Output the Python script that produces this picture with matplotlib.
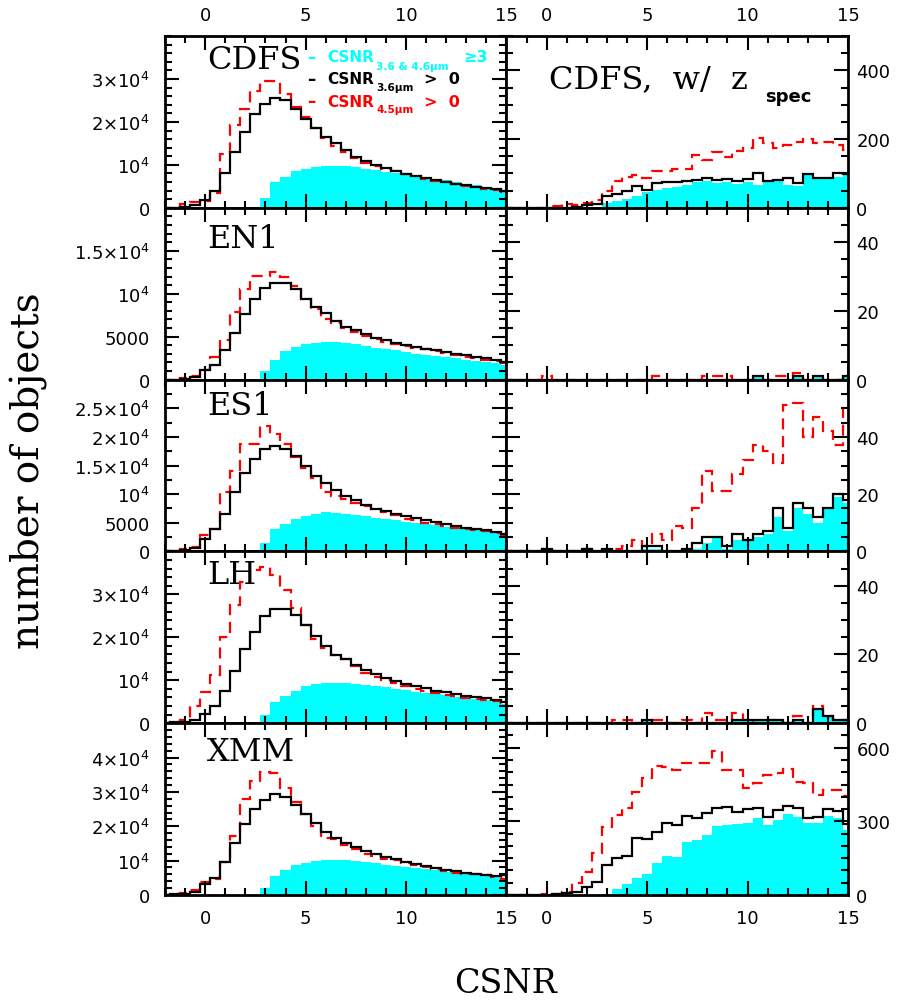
import numpy as np
import matplotlib
matplotlib.use("Agg")
import matplotlib.pyplot as plt
from matplotlib.ticker import MultipleLocator, FixedLocator, FuncFormatter

# bin centres (CSNR, 0.5 wide bins)
centres = np.arange(-2.0, 15.01, 0.5)      # black / red histograms
centres_cyan = np.arange(3.0, 15.01, 0.5)  # CSNR >= 3 histogram

fields = ["CDFS", "EN1", "ES1", "LH", "XMM"]

# ---- left column: all objects ----
cdfs_black = [0, 0, 300, 600, 1770, 3850, 8090, 13100, 17700, 21950, 24270, 25660, 25040, 23100, 20800,
              18500, 16570, 15030, 13490, 11950, 10790, 10020, 9250, 8630, 7940, 7480, 6940, 6400, 6010,
              5550, 5240, 4930, 4620, 4320, 4000]
cdfs_red = [0, 0, 800, 1300, 1540, 3470, 12480, 19260, 23000, 27190, 29490, 29490, 26570, 23480, 21180,
            18500, 16180, 14480, 12940, 11710, 10550, 9850, 9100, 8500, 7850, 7300, 6800, 6300, 5900,
            5450, 5100, 4800, 4500, 4200, 3800]
cdfs_cyan = [2310, 6000, 7160, 8470, 9090, 9400, 9700, 9780, 9630, 9400, 9090, 8780, 8320, 8010, 7700,
             7400, 7090, 6780, 6400, 6010, 5630, 5240, 4930, 4620, 4240]

en1_black = [0, 0, 120, 270, 1090, 1750, 3390, 5460, 7680, 9360, 10640, 11230, 11230, 10530, 9440,
             8460, 7720, 6820, 6160, 5730, 5260, 4870, 4560, 4290, 4050, 3780, 3590, 3390, 3200,
             3000, 2810, 2610, 2460, 2260, 2030]
en1_red = [0, 0, 200, 390, 1170, 2610, 4560, 7910, 10530, 12090, 12090, 12480, 11900, 10920, 9440,
           8190, 7020, 6630, 5970, 5580, 5070, 4680, 4400, 4090, 3900, 3700, 3510, 3280, 3080,
           2890, 2690, 2500, 2340, 2140, 1950]
en1_cyan = [975, 2340, 3310, 3780, 4090, 4290, 4400, 4370, 4210, 4090, 3900, 3700, 3550, 3390, 3200,
            3040, 2890, 2730, 2610, 2460, 2300, 2180, 2030, 1910, 1750]

es1_black = [0, 0, 290, 640, 2210, 3830, 6570, 10340, 13650, 16150, 17890, 18360, 17890, 16730, 14990,
             13250, 11970, 10810, 9640, 8890, 8020, 7440, 7030, 6570, 6160, 5810, 5400, 5050, 4710,
             4420, 4130, 3890, 3660, 3370, 3080]
es1_red = [0, 0, 460, 750, 2900, 3950, 10340, 14120, 18770, 18770, 21850, 20510, 18770, 16440, 14580,
           12840, 10340, 9760, 9180, 8420, 7900, 7320, 6860, 6270, 5690, 5400, 5000, 4710, 4360,
           4130, 3890, 3660, 3490, 3200, 2900]
es1_cyan = [1450, 3830, 4820, 5690, 6160, 6570, 6800, 6740, 6570, 6330, 6100, 5870, 5640, 5400, 5170,
            4940, 4710, 4530, 4300, 4130, 3890, 3660, 3490, 3250, 2790]

lh_black = [0, 160, 160, 630, 2200, 3920, 7450, 12150, 17250, 21320, 24930, 26500, 26660, 25090, 22890,
            20230, 18030, 15840, 14900, 13480, 12390, 11370, 10580, 9800, 9170, 8620, 8080, 7600, 7210,
            6740, 6430, 6120, 5800, 5490, 5020]
lh_red = [0, 390, 780, 3920, 7210, 11130, 19990, 27440, 32770, 35670, 36300, 34500, 30970, 26810, 22890,
          19600, 17400, 15840, 14900, 13330, 11760, 10740, 9960, 9250, 8620, 8000, 7450, 7060, 6590,
          6270, 5960, 5640, 5330, 5100, 4700]
lh_cyan = [1800, 4940, 6270, 7600, 8620, 9020, 9330, 9410, 9410, 9170, 8940, 8620, 8310, 8000, 7680,
           7370, 7060, 6740, 6510, 6190, 5880, 5640, 5330, 5020, 4550]

xmm_black = [0, 190, 390, 870, 3100, 4860, 9710, 15240, 20590, 25150, 27580, 29320, 28640, 26120, 23690,
             20880, 18350, 16700, 15240, 14080, 12820, 11850, 11070, 10390, 9710, 9130, 8450, 7960, 7380,
             6890, 6510, 6120, 5830, 5630, 5730]
xmm_red = [0, 390, 490, 1460, 3790, 4760, 9610, 17190, 27870, 33210, 35830, 35440, 31270, 27090, 23500,
           20100, 16700, 16220, 14470, 13300, 11850, 11360, 10580, 10200, 9220, 8740, 8160, 7480, 6990,
           6510, 6210, 6020, 5730, 5340, 4760]
xmm_cyan = [2140, 5530, 7280, 8740, 9420, 9900, 10200, 10200, 10100, 9810, 9610, 9220, 8840, 8450, 8160,
            7870, 7480, 7190, 6800, 6410, 6120, 5830, 5440, 5150, 4760]

# ---- right column: objects with spectroscopic redshift ----
cdfsz_black = [0, 0, 0, 0, 0, 0, 0, 3, 8, 12, 34, 41, 48, 63, 51, 72, 74, 75, 77, 82, 87, 82, 84, 79, 85,
               101, 77, 82, 87, 72, 99, 87, 87, 101, 98]
cdfsz_red = [0, 0, 0, 0, 0, 5, 10, 8, 13, 24, 48, 77, 89, 96, 87, 108, 108, 114, 114, 154, 140, 162, 149,
             164, 173, 202, 188, 173, 183, 193, 199, 188, 193, 183, 169]
cdfsz_cyan = [13, 19, 27, 34, 45, 53, 58, 60, 67, 75, 77, 72, 75, 69, 75, 67, 75, 77, 67, 63, 96, 85, 85,
              91, 96]

en1z_black = [0, 0, 0, 0, 0, 0, 0, 0, 0, 0, 0, 0, 0, 0, 0, 0, 0, 0, 0, 0, 0, 0, 0, 0, 0,
              1, 0, 0, 0, 1, 0, 1, 0, 0, 1]
en1z_red = [0, 0, 0, 0, 1, 0, 0, 0, 0, 0, 0, 0, 0, 0, 0, 1, 0, 0, 0, 0, 1, 1, 1, 0, 0,
            0, 0, 1, 1, 2, 0, 0, 0, 0, 2]
en1z_cyan = [0, 0, 0, 0, 0, 0, 0, 0, 0, 0, 0, 0, 0, 0, 0, 1, 0, 0, 0, 1, 0, 1, 0, 0, 1]

es1z_black = [0, 0, 0, 0, 1, 0, 0, 0, 1, 0, 1, 0, 0, 0, 2, 2, 0, 0, 1, 3, 5, 5, 2, 6, 4,
              6, 7, 15, 8, 17, 15, 12, 15, 20, 18]
es1z_red = [0, 0, 0, 0, 1, 0, 0, 0, 1, 0, 0, 1, 2, 4, 2, 6, 4, 9, 8, 15, 28, 21, 21, 27, 32,
            37, 35, 31, 51, 52, 40, 47, 42, 37, 50]
es1z_cyan = [0, 0, 0, 0, 1, 1, 0, 0, 0, 1, 3, 5, 1, 4, 4, 5, 6, 12, 7, 15, 13, 10, 15, 19, 17]

lhz_black = [0, 0, 0, 0, 0, 0, 0, 0, 0, 0, 0, 0, 0, 0, 1, 0, 0, 0, 0, 0, 0, 0, 0, 1, 1,
             1, 1, 1, 0, 1, 0, 4, 2, 1, 1]
lhz_red = [0, 0, 0, 0, 0, 0, 0, 0, 0, 0, 0, 1, 1, 0, 0, 1, 0, 0, 1, 0, 3, 1, 1, 3, 1,
           0, 1, 1, 0, 2, 0, 5, 2, 1, 1]
lhz_cyan = [0, 0, 0, 0, 1, 0, 0, 0, 0, 0, 0, 0, 0, 1, 1, 1, 1, 1, 0, 1, 0, 4, 2, 1, 1]

xmmz_black = [0, 0, 0, 0, 0, 4, 10, 14, 34, 52, 122, 149, 159, 233, 227, 258, 292, 285, 323, 315, 335,
              356, 360, 339, 349, 356, 319, 346, 364, 353, 312, 319, 349, 343, 289]
xmmz_red = [0, 0, 0, 0, 3, 4, 14, 47, 95, 170, 278, 326, 353, 421, 475, 525, 522, 509, 539, 539, 536,
            587, 509, 509, 437, 455, 489, 498, 512, 461, 455, 407, 427, 427, 403]
xmmz_cyan = [4, 23, 45, 71, 84, 132, 159, 153, 217, 224, 244, 281, 285, 288, 294, 312, 285, 305, 330,
             319, 292, 294, 322, 312, 265]

left_data = [(cdfs_black, cdfs_red, cdfs_cyan), (en1_black, en1_red, en1_cyan),
             (es1_black, es1_red, es1_cyan), (lh_black, lh_red, lh_cyan),
             (xmm_black, xmm_red, xmm_cyan)]
right_data = [(cdfsz_black, cdfsz_red, cdfsz_cyan), (en1z_black, en1z_red, en1z_cyan),
              (es1z_black, es1z_red, es1z_cyan), (lhz_black, lhz_red, lhz_cyan),
              (xmmz_black, xmmz_red, xmmz_cyan)]

# axis settings: (ymax, major ticks, minor step)
left_axes = [(4.0e4, [0, 1e4, 2e4, 3e4], 2000),
             (2.0e4, [0, 5000, 1e4, 1.5e4], 1000),
             (3.0e4, [0, 5000, 1e4, 1.5e4, 2e4, 2.5e4], 2500),
             (4.0e4, [0, 1e4, 2e4, 3e4], 2000),
             (5.0e4, [0, 1e4, 2e4, 3e4, 4e4], 2000)]
right_axes = [(500, [0, 200, 400], 50),
              (50, [0, 20, 40], 5),
              (60, [0, 20, 40], 5),
              (50, [0, 20, 40], 5),
              (700, [0, 300, 600], 50)]
label_y = [0.864, 0.82, 0.847, 0.868, 0.834]


def edges(c):
    return np.append(c - 0.25, c[-1] + 0.25)


def sci_fmt(v, pos):
    if v == 0:
        return '0'
    if v < 1e4:
        return f'{v:.0f}'
    m = v / 1e4
    if m == 1:
        return r'10$^{4}$'
    return f'{m:g}' + r'$\times$10$^{4}$'


def draw(ax, black, red, cyan, ymax, majors, minor):
    ax.stairs(cyan, edges(centres_cyan), fill=True, color='#00ffff', lw=0)
    ax.stairs(red, edges(centres), baseline=None, color='r', lw=1.6, ls=(0, (5, 3)))
    ax.stairs(black, edges(centres), baseline=None, color='k', lw=1.6)
    ax.set_xlim(-2, 15)
    ax.set_ylim(0, ymax)
    ax.xaxis.set_major_locator(FixedLocator([0, 5, 10, 15]))
    ax.xaxis.set_minor_locator(MultipleLocator(1))
    ax.yaxis.set_major_locator(FixedLocator(majors))
    ax.yaxis.set_minor_locator(MultipleLocator(minor))
    ax.tick_params(which='both', direction='in', top=True, right=True, width=1.5,
                   labelsize=13, labelbottom=False, labeltop=False,
                   labelleft=False, labelright=False)
    ax.tick_params(which='major', length=10)
    ax.tick_params(which='minor', length=5)
    for s in ax.spines.values():
        s.set_linewidth(2)


fig, axes = plt.subplots(5, 2, figsize=(9.09, 10.04), dpi=100)
fig.subplots_adjust(left=0.1815, right=0.9329, bottom=0.1076, top=0.9631, wspace=0, hspace=0)

for i in range(5):
    axl, axr = axes[i, 0], axes[i, 1]
    draw(axl, *left_data[i], *left_axes[i])
    draw(axr, *right_data[i], *right_axes[i])
    axl.tick_params(axis='y', labelleft=True, pad=11)
    axl.yaxis.set_major_formatter(FuncFormatter(sci_fmt))
    axr.tick_params(axis='y', labelright=True, pad=6)
    if i == 0:
        axl.tick_params(axis='x', labeltop=True, pad=9)
        axr.tick_params(axis='x', labeltop=True, pad=9)
    if i == 4:
        axl.tick_params(axis='x', labelbottom=True, pad=10)
        axr.tick_params(axis='x', labelbottom=True, pad=10)
    axl.text(0.1235, label_y[i], fields[i], transform=axl.transAxes,
             family='DejaVu Serif', size=23, va='center', ha='left')

# right-hand top panel title
ax = axes[0, 1]
ax.text(0.125, 0.751, 'CDFS,  w/  z', transform=ax.transAxes,
        family='DejaVu Serif', size=23, va='center', ha='left')
ax.text(0.758, 0.653, 'spec', transform=ax.transAxes,
        family='DejaVu Sans', weight='bold', size=13, va='center', ha='left')

# hand-made legend in the CDFS panel
ax = axes[0, 0]
legend_rows = [('#00ffff', 0.879, 0.827, '3.6 & 4.6\u03bcm', '\u22653', 0.874),
               ('k', 0.752, 0.705, '3.6\u03bcm', '>  0', 0.759),
               ('r', 0.620, 0.578, '4.5\u03bcm', '>  0', 0.759)]
for col, y, ysub, sub, tail, xtail in legend_rows:
    kw = dict(transform=ax.transAxes, family='DejaVu Sans', weight='bold', color=col, va='center', ha='left')
    ax.text(0.415, y, '\u2013', size=12, **kw)
    ax.text(0.476, y, 'CSNR', size=11, **kw)
    ax.text(0.618, ysub, sub, size=7.6, **kw)
    ax.text(xtail, y, tail, size=11.5, **kw)

fig.text(0.032, 0.531, 'number of objects', rotation=90, family='DejaVu Serif', size=28,
         va='center', ha='center')
fig.text(0.5556, 0.02, 'CSNR', family='DejaVu Serif', size=24, va='center', ha='center')

fig.savefig('out.png', dpi=100)
